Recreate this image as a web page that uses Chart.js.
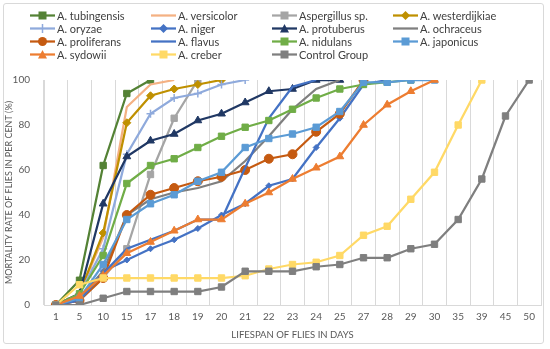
<!DOCTYPE html>
<html><head><meta charset="utf-8">
<script src="https://cdn.jsdelivr.net/npm/chart.js@4"></script>
<style>
html,body{margin:0;padding:0;background:#fff;}
#wrap{position:relative;width:550px;height:349px;overflow:hidden;}
#frame{position:absolute;left:3px;top:3px;width:541px;height:341px;border:1px solid #D9D9D9;border-radius:3px;box-sizing:border-box;pointer-events:none;}
#legend{position:absolute;left:30px;top:9px;width:510px;display:grid;grid-template-columns:121px 121px 121px 140px;row-gap:0px;font-family:Lato,"Liberation Sans",sans-serif;font-size:11px;color:#404040;}
.li{display:flex;align-items:center;height:13px;white-space:nowrap;}
.li svg{margin-right:2px;flex:none;}
canvas{position:absolute;left:0;top:0;}
</style></head>
<body><div id="wrap"><canvas id="c" width="550" height="349"></canvas><div id="legend"></div><div id="frame"></div></div>
<script>
const days = ['1','5','10','15','17','18','19','20','21','22','23','24','25','27','28','29','30','35','39','45','50'];
const seriesNames = ['A. tubingensis','A. versicolor','Aspergillus sp.','A. westerdijkiae','A. oryzae','A. niger','A. protuberus','A. ochraceus','A. proliferans','A. flavus','A. nidulans','A. japonicus','A. sydowii','A. creber','Control Group'];
const tubingensis   = [0, 11, 62, 94, 100];
const versicolor    = [0, 5, 30, 88, 98, 100];
const aspergillusSp = [0, 3, 12, 25, 58, 83, 100];
const westerdijkiae = [0, 5, 32, 81, 93, 96, 98, 100];
const oryzae        = [0, 5, 25, 67, 85, 92, 94, 98, 100];
const niger         = [0, 3, 15, 20, 25, 29, 34, 40, 45, 53, 56, 70, 83, 98, 100];
const protuberus    = [0, 5, 45, 66, 73, 76, 82, 85, 90, 95, 96, 100, 100];
const ochraceus     = [0, 2, 15, 40, 47, 50, 52, 55, 64, 75, 87, 96, 100];
const proliferans   = [0, 2, 12, 40, 49, 52, 55, 57, 60, 65, 67, 77, 85, 100];
const flavus        = [0, 2, 14, 25, 29, 33, 38, 38, 61, 83, 97, 100];
const nidulans      = [0, 5, 22, 54, 62, 65, 70, 75, 79, 82, 87, 92, 96, 98, 99, 100];
const japonicus     = [0, 3, 18, 38, 45, 49, 55, 59, 70, 74, 76, 79, 86, 99, 99, 100, 100];
const sydowii       = [0, 4, 13, 23, 28, 33, 38, 38, 45, 50, 56, 61, 66, 80, 89, 95, 100];
const creber        = [0, 9, 12, 12, 12, 12, 12, 12, 13, 16, 18, 19, 22, 31, 35, 47, 59, 80, 100];
const control       = [0, 0, 3, 6, 6, 6, 6, 8, 15, 15, 15, 17, 18, 21, 21, 25, 27, 38, 56, 84, 100];
const yTicks = [0, 20, 40, 60, 80, 100];

const allData = [tubingensis, versicolor, aspergillusSp, westerdijkiae, oryzae, niger, protuberus, ochraceus, proliferans, flavus, nidulans, japonicus, sydowii, creber, control];
const colors = ['#548235','#F4B183','#A5A5A5','#BF9000','#8FAADC','#4472C4','#203864','#7F7F7F','#C55A11','#4472C4','#70AD47','#5B9BD5','#ED7D31','#FFD966','#7F7F7F'];
const markers = ['rect',false,'rect','rectRot','cross','rectRot','triangle',false,'circle',false,'rect','rect','triangle','rect','rect'];
const radii = [4.5,0,4.5,4,4,3,4.5,0,4.5,0,4.5,4.5,4.5,4.5,4.5];

const datasets = allData.map((d,i)=>({
  label: seriesNames[i],
  data: d,
  borderColor: colors[i],
  backgroundColor: colors[i],
  borderWidth: 2.25,
  pointStyle: markers[i] || 'circle',
  pointRadius: markers[i] ? radii[i] : 0,
  pointHoverRadius: markers[i] ? radii[i] : 0,
  pointBorderWidth: markers[i]==='cross' ? 1.5 : 1,
  pointBorderColor: colors[i],
  pointBackgroundColor: colors[i],
  tension: 0,
  order: -i
}));

new Chart(document.getElementById('c'), {
  type: 'line',
  data: { labels: days, datasets },
  options: {
    responsive: false,
    animation: false,
    layout: { padding: { top: 80, left: 4, right: 9, bottom: 8 } },
    plugins: { legend: { display: false }, tooltip: { enabled: false } },
    scales: {
      x: {
        offset: true,
        grid: { color: '#D9D9D9', lineWidth: 1, offset: true, drawTicks: false },
        border: { color: '#D9D9D9' },
        ticks: { color: '#595959', font: { family: 'Lato, "Liberation Sans", sans-serif', size: 10 }, padding: 6, maxRotation: 0, autoSkip: false },
        title: { display: true, text: 'LIFESPAN OF FLIES IN DAYS', color: '#595959', font: { family: 'Lato, "Liberation Sans", sans-serif', size: 9.5 }, padding: { top: 5, bottom: 0 } },
        afterFit: s => { s.height = 36; }
      },
      y: {
        min: 0, max: 100,
        afterBuildTicks: s => { s.ticks = yTicks.map(v => ({ value: v })); },
        grid: { display: false },
        border: { color: '#D9D9D9' },
        ticks: { color: '#595959', font: { family: 'Lato, "Liberation Sans", sans-serif', size: 10 }, padding: 6 },
        title: { display: true, text: 'MORTALITY RATE OF FLIES IN PER CENT (%)', color: '#595959', font: { family: 'Lato, "Liberation Sans", sans-serif', size: 9 }, padding: { top: 0, bottom: 2 } },
        afterFit: s => { s.width = 40; }
      }
    }
  }
});

// HTML legend
const lg = document.getElementById('legend');
function markerSvg(i){
  const c = colors[i], m = markers[i];
  let shape = '';
  if (m === 'rect') shape = `<rect x="8.5" y="2.5" width="8" height="8" fill="${c}"/>`;
  else if (m === 'rectRot') shape = `<polygon points="12.5,2 17,6.5 12.5,11 8,6.5" fill="${c}"/>`;
  else if (m === 'triangle') shape = `<polygon points="12.5,2 17,10.5 8,10.5" fill="${c}"/>`;
  else if (m === 'circle') shape = `<circle cx="12.5" cy="6.5" r="4.5" fill="${c}"/>`;
  else if (m === 'cross') shape = `<line x1="12.5" y1="2" x2="12.5" y2="11" stroke="${c}" stroke-width="1.5"/>`;
  return `<svg width="25" height="13"><line x1="0" y1="6.5" x2="25" y2="6.5" stroke="${c}" stroke-width="2.25"/>${shape}</svg>`;
}
seriesNames.forEach((n,i)=>{
  const d = document.createElement('div');
  d.className = 'li';
  d.innerHTML = markerSvg(i) + '<span></span>';
  d.querySelector('span').textContent = n;
  lg.appendChild(d);
});
</script></body></html>
